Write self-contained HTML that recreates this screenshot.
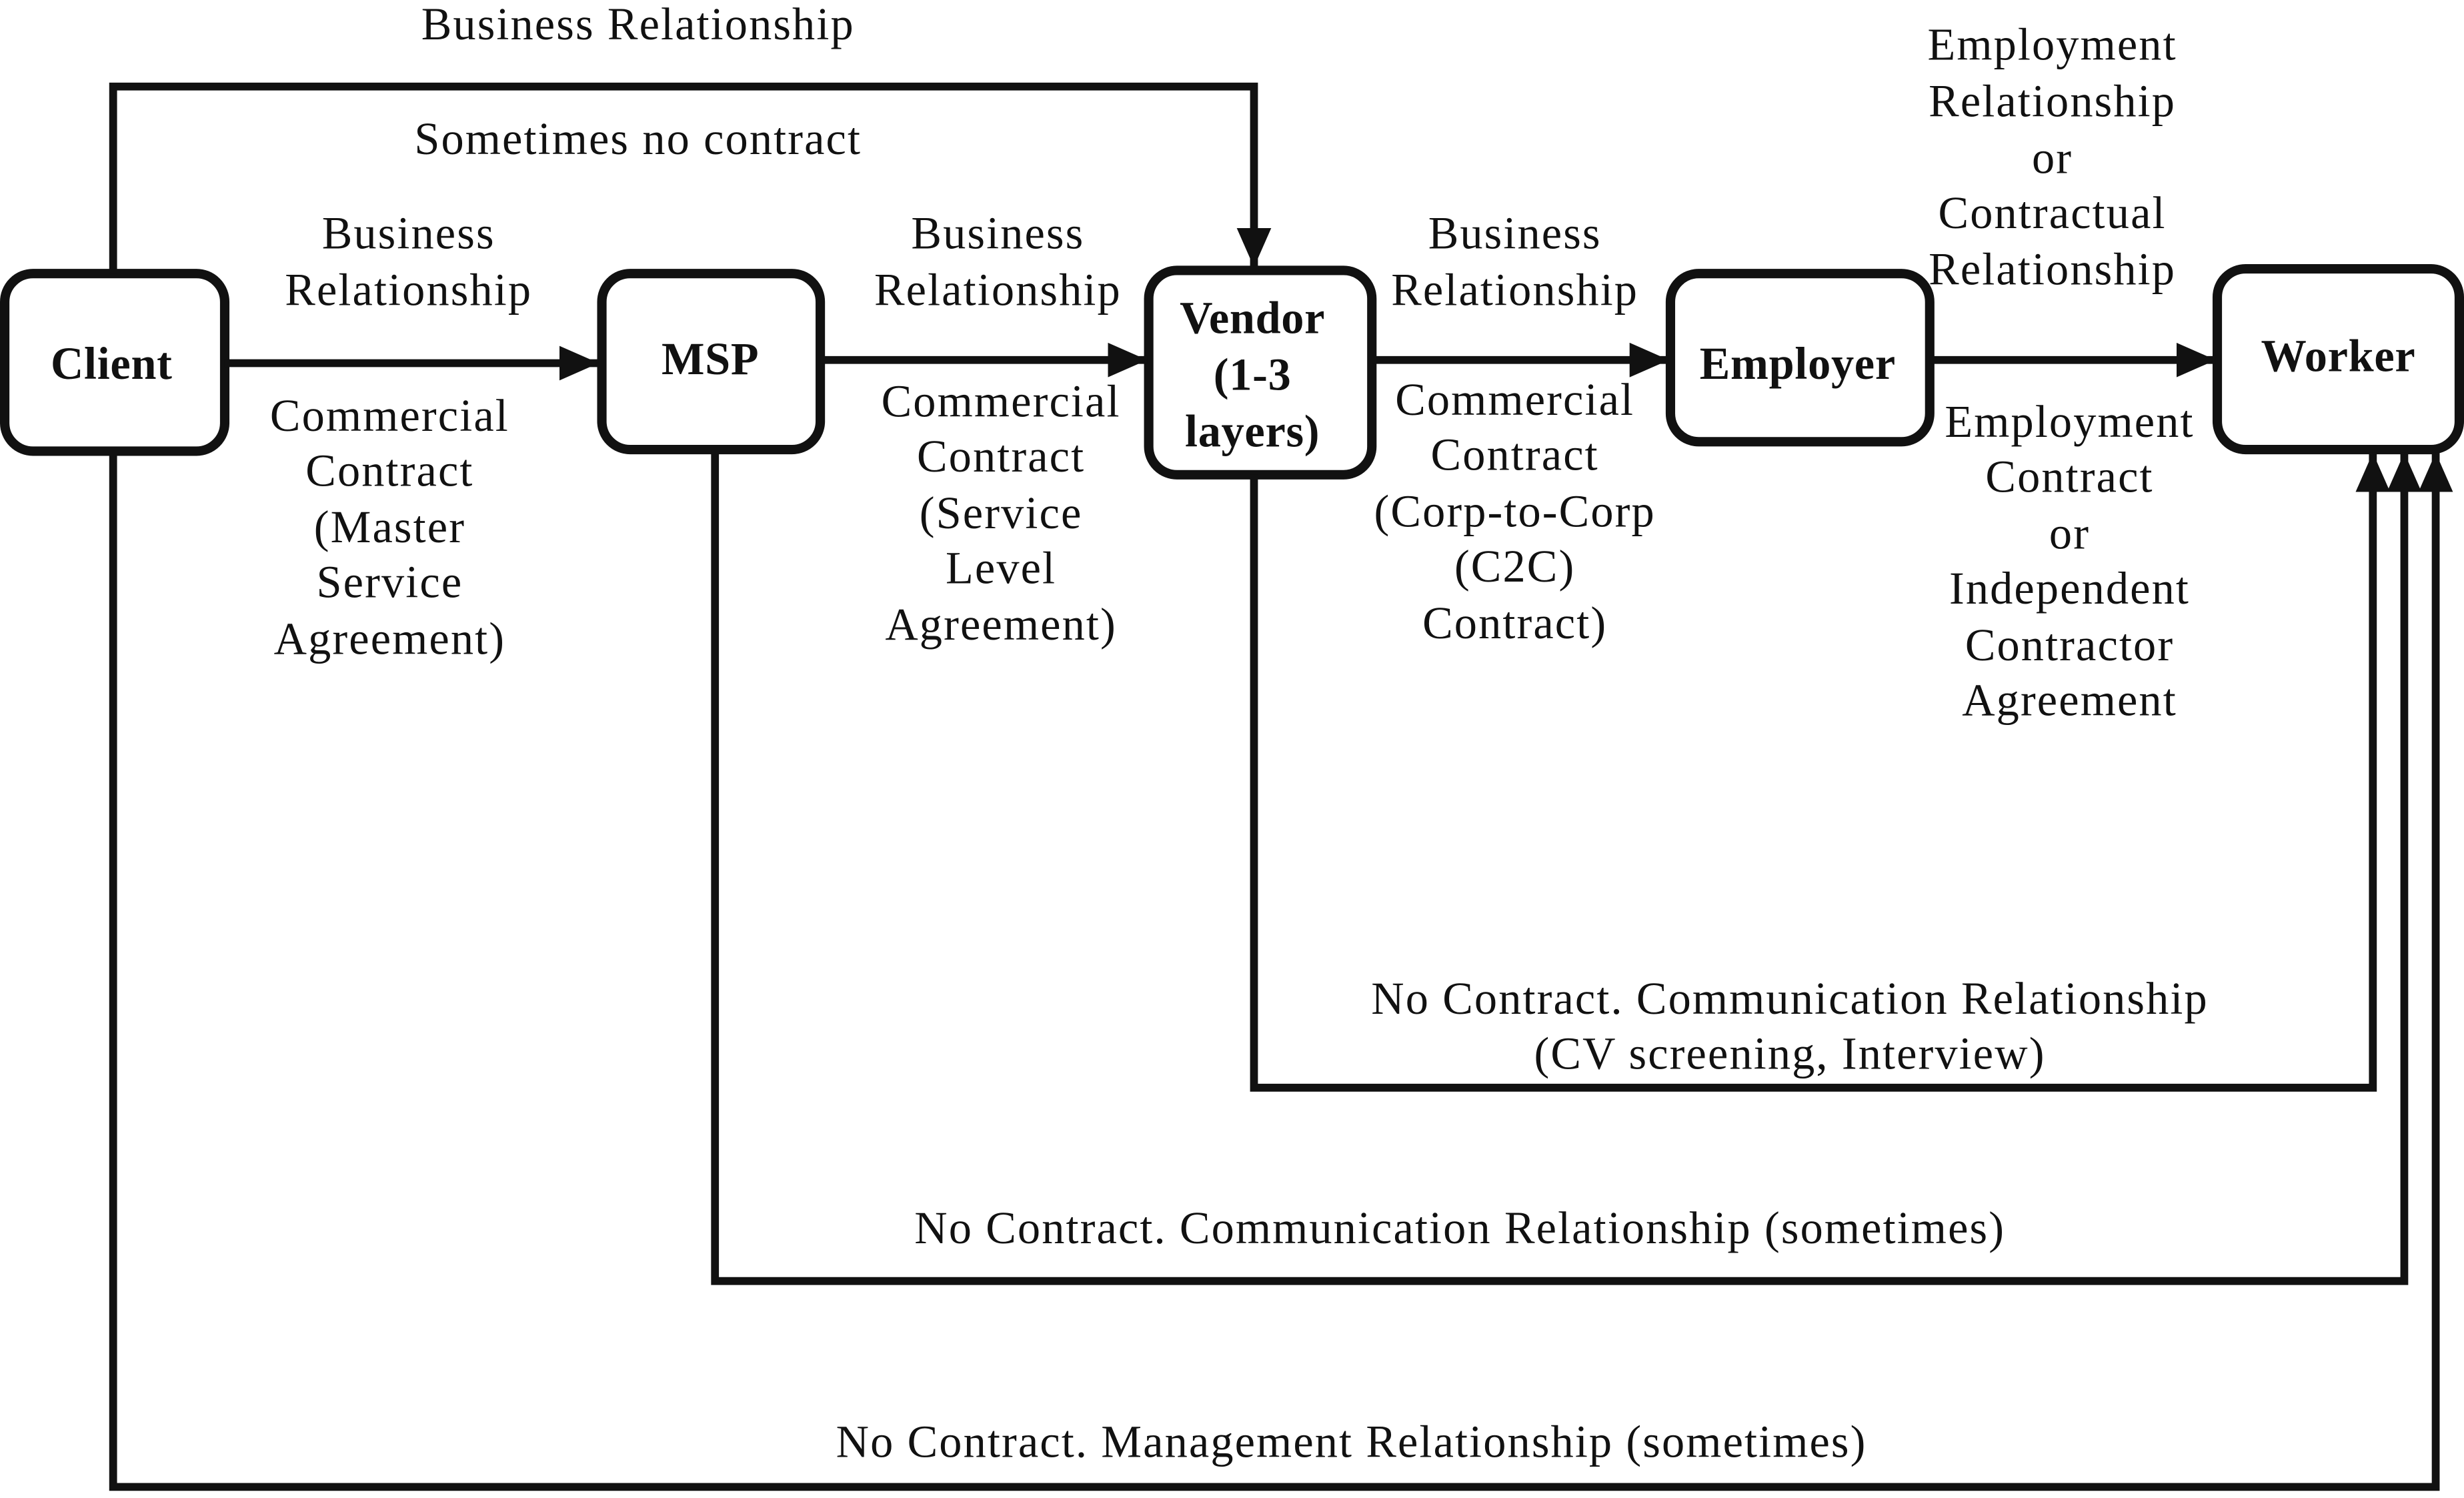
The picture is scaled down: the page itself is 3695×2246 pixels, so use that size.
<!DOCTYPE html>
<html><head><meta charset="utf-8"><style>
html,body{margin:0;padding:0;background:#fff;}
svg{display:block;}
text{font-family:"Liberation Serif","Times New Roman",serif;font-size:29px;letter-spacing:0.9px;fill:#111;text-anchor:middle;}
.b{font-weight:bold;font-size:29px;letter-spacing:0.3px;}
</style></head><body>
<svg width="3695" height="2246" viewBox="0 0 1568 953" xmlns="http://www.w3.org/2000/svg">
<defs><marker id="a" markerWidth="5" markerHeight="4.4" refX="5" refY="2.2" orient="auto" markerUnits="strokeWidth"><path d="M0,0 L5,2.2 L0,4.4 z" fill="#111"/></marker></defs>
<g fill="none" stroke="#111" stroke-width="6">
<rect x="3" y="174" width="140" height="113" rx="18"/>
<rect x="383" y="174" width="139" height="112" rx="18"/>
<rect x="731" y="172" width="142" height="130" rx="18"/>
<rect x="1063" y="174" width="165" height="107" rx="18"/>
<rect x="1411" y="171" width="154" height="115" rx="18"/>
</g>
<g fill="none" stroke="#111" stroke-width="5" stroke-linejoin="miter">
<path d="M72 174 V55 H798 V170" marker-end="url(#a)"/>
<path d="M143 231 H381" marker-end="url(#a)"/>
<path d="M522 229 H730" marker-end="url(#a)"/>
<path d="M873 229 H1062" marker-end="url(#a)"/>
<path d="M1228 229 H1410" marker-end="url(#a)"/>
<path d="M798 302 V692 H1510 V288" marker-end="url(#a)"/>
<path d="M455 286 V815 H1530 V288" marker-end="url(#a)"/>
<path d="M72 287 V946 H1550 V288" marker-end="url(#a)"/>
</g>
<text class="b" x="71" y="241">Client</text>
<text class="b" x="452" y="238">MSP</text>
<text class="b" x="797" y="212">Vendor</text>
<text class="b" x="797" y="248">(1-3</text>
<text class="b" x="797" y="284">layers)</text>
<text class="b" x="1144" y="241">Employer</text>
<text class="b" x="1488" y="236">Worker</text>
<text x="406" y="25">Business Relationship</text>
<text x="406" y="98">Sometimes no contract</text>
<text x="260" y="158">Business</text>
<text x="260" y="194">Relationship</text>
<text x="248" y="274">Commercial</text>
<text x="248" y="309">Contract</text>
<text x="248" y="345">(Master</text>
<text x="248" y="380">Service</text>
<text x="248" y="416">Agreement)</text>
<text x="635" y="158">Business</text>
<text x="635" y="194">Relationship</text>
<text x="637" y="265">Commercial</text>
<text x="637" y="300">Contract</text>
<text x="637" y="336">(Service</text>
<text x="637" y="371">Level</text>
<text x="637" y="407">Agreement)</text>
<text x="964" y="158">Business</text>
<text x="964" y="194">Relationship</text>
<text x="964" y="264">Commercial</text>
<text x="964" y="299">Contract</text>
<text x="964" y="335">(Corp-to-Corp</text>
<text x="964" y="370">(C2C)</text>
<text x="964" y="406">Contract)</text>
<text x="1306" y="38">Employment</text>
<text x="1306" y="74">Relationship</text>
<text x="1306" y="110">or</text>
<text x="1306" y="145">Contractual</text>
<text x="1306" y="181">Relationship</text>
<text x="1317" y="278">Employment</text>
<text x="1317" y="313">Contract</text>
<text x="1317" y="349">or</text>
<text x="1317" y="384">Independent</text>
<text x="1317" y="420">Contractor</text>
<text x="1317" y="455">Agreement</text>
<text x="1139" y="645">No Contract. Communication Relationship</text>
<text x="1139" y="680">(CV screening, Interview)</text>
<text x="929" y="791">No Contract. Communication Relationship (sometimes)</text>
<text x="860" y="927">No Contract. Management Relationship (sometimes)</text>
</svg>
</body></html>
